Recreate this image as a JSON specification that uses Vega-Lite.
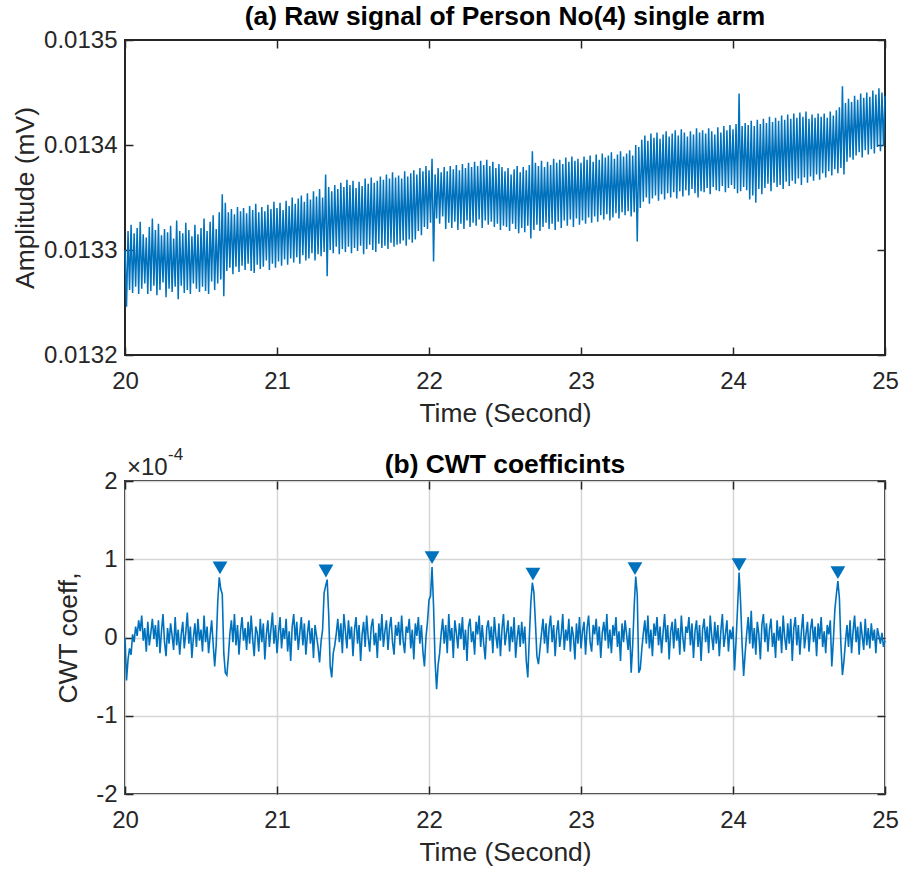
{
"$schema": "https://vega.github.io/schema/vega-lite/v6.json",
"background": "white",
"padding": {"left": 11, "top": 2, "right": 18, "bottom": 5},
"spacing": 126,
"bounds": "flush",
"config": {
  "font": "Liberation Sans",
  "view": {"stroke": "#262626", "strokeWidth": 2},
  "axis": {"domain": false, "labelFont": "Liberation Sans", "labelFontSize": 24, "labelColor": "#262626", "titleFont": "Liberation Sans", "titleFontSize": 26.4, "titleFontWeight": "normal", "titleColor": "#262626", "tickColor": "#262626", "tickSize": -8, "tickWidth": 1.5, "grid": false},
  "axisX": {"labelPadding": 22, "titlePadding": 7},
  "axisY": {"labelPadding": 16},
  "title": {"font": "Liberation Sans", "fontSize": 26.4, "fontWeight": "bold", "color": "#000000", "anchor": "middle", "offset": -2}
},
"datasets": {
"raw": [
{"t":20.00,"v":0.013300},{"t":20.01,"v":0.013246},{"t":20.02,"v":0.013318},{"t":20.03,"v":0.013262},{"t":20.04,"v":0.013324},{"t":20.05,"v":0.013259},{"t":20.06,"v":0.013316},{"t":20.07,"v":0.013265},{"t":20.08,"v":0.013321},{"t":20.09,"v":0.013258},
{"t":20.10,"v":0.013327},{"t":20.11,"v":0.013263},{"t":20.12,"v":0.013315},{"t":20.13,"v":0.013268},{"t":20.14,"v":0.013312},{"t":20.15,"v":0.013258},{"t":20.16,"v":0.013322},{"t":20.17,"v":0.013261},{"t":20.18,"v":0.013330},{"t":20.19,"v":0.013266},
{"t":20.20,"v":0.013319},{"t":20.21,"v":0.013257},{"t":20.22,"v":0.013325},{"t":20.23,"v":0.013262},{"t":20.24,"v":0.013314},{"t":20.25,"v":0.013269},{"t":20.26,"v":0.013320},{"t":20.27,"v":0.013255},{"t":20.28,"v":0.013317},{"t":20.29,"v":0.013263},
{"t":20.30,"v":0.013323},{"t":20.31,"v":0.013260},{"t":20.32,"v":0.013311},{"t":20.33,"v":0.013265},{"t":20.34,"v":0.013328},{"t":20.35,"v":0.013253},{"t":20.36,"v":0.013318},{"t":20.37,"v":0.013266},{"t":20.38,"v":0.013316},{"t":20.39,"v":0.013259},
{"t":20.40,"v":0.013326},{"t":20.41,"v":0.013262},{"t":20.42,"v":0.013319},{"t":20.43,"v":0.013258},{"t":20.44,"v":0.013313},{"t":20.45,"v":0.013268},{"t":20.46,"v":0.013324},{"t":20.47,"v":0.013263},{"t":20.48,"v":0.013315},{"t":20.49,"v":0.013260},
{"t":20.50,"v":0.013321},{"t":20.51,"v":0.013265},{"t":20.52,"v":0.013330},{"t":20.53,"v":0.013261},{"t":20.54,"v":0.013318},{"t":20.55,"v":0.013258},{"t":20.56,"v":0.013327},{"t":20.57,"v":0.013270},{"t":20.58,"v":0.013333},{"t":20.59,"v":0.013262},
{"t":20.60,"v":0.013320},{"t":20.61,"v":0.013268},{"t":20.62,"v":0.013336},{"t":20.63,"v":0.013272},{"t":20.64,"v":0.013353},{"t":20.65,"v":0.013256},{"t":20.66,"v":0.013345},{"t":20.67,"v":0.013280},{"t":20.68,"v":0.013336},{"t":20.69,"v":0.013283},
{"t":20.70,"v":0.013339},{"t":20.71,"v":0.013277},{"t":20.72,"v":0.013334},{"t":20.73,"v":0.013284},{"t":20.74,"v":0.013341},{"t":20.75,"v":0.013279},{"t":20.76,"v":0.013337},{"t":20.77,"v":0.013285},{"t":20.78,"v":0.013340},{"t":20.79,"v":0.013281},
{"t":20.80,"v":0.013335},{"t":20.81,"v":0.013287},{"t":20.82,"v":0.013342},{"t":20.83,"v":0.013280},{"t":20.84,"v":0.013338},{"t":20.85,"v":0.013278},{"t":20.86,"v":0.013344},{"t":20.87,"v":0.013286},{"t":20.88,"v":0.013336},{"t":20.89,"v":0.013282},
{"t":20.90,"v":0.013341},{"t":20.91,"v":0.013284},{"t":20.92,"v":0.013337},{"t":20.93,"v":0.013290},{"t":20.94,"v":0.013343},{"t":20.95,"v":0.013281},{"t":20.96,"v":0.013339},{"t":20.97,"v":0.013287},{"t":20.98,"v":0.013346},{"t":20.99,"v":0.013283},
{"t":21.00,"v":0.013340},{"t":21.01,"v":0.013289},{"t":21.02,"v":0.013345},{"t":21.03,"v":0.013285},{"t":21.04,"v":0.013338},{"t":21.05,"v":0.013291},{"t":21.06,"v":0.013347},{"t":21.07,"v":0.013286},{"t":21.08,"v":0.013342},{"t":21.09,"v":0.013292},
{"t":21.10,"v":0.013350},{"t":21.11,"v":0.013288},{"t":21.12,"v":0.013344},{"t":21.13,"v":0.013293},{"t":21.14,"v":0.013349},{"t":21.15,"v":0.013287},{"t":21.16,"v":0.013352},{"t":21.17,"v":0.013295},{"t":21.18,"v":0.013346},{"t":21.19,"v":0.013290},
{"t":21.20,"v":0.013354},{"t":21.21,"v":0.013292},{"t":21.22,"v":0.013348},{"t":21.23,"v":0.013297},{"t":21.24,"v":0.013356},{"t":21.25,"v":0.013290},{"t":21.26,"v":0.013351},{"t":21.27,"v":0.013296},{"t":21.28,"v":0.013358},{"t":21.29,"v":0.013294},
{"t":21.30,"v":0.013350},{"t":21.31,"v":0.013298},{"t":21.32,"v":0.013372},{"t":21.33,"v":0.013275},{"t":21.34,"v":0.013360},{"t":21.35,"v":0.013300},{"t":21.36,"v":0.013356},{"t":21.37,"v":0.013297},{"t":21.38,"v":0.013362},{"t":21.39,"v":0.013303},
{"t":21.40,"v":0.013358},{"t":21.41,"v":0.013296},{"t":21.42,"v":0.013364},{"t":21.43,"v":0.013301},{"t":21.44,"v":0.013360},{"t":21.45,"v":0.013298},{"t":21.46,"v":0.013367},{"t":21.47,"v":0.013303},{"t":21.48,"v":0.013362},{"t":21.49,"v":0.013297},
{"t":21.50,"v":0.013366},{"t":21.51,"v":0.013302},{"t":21.52,"v":0.013359},{"t":21.53,"v":0.013299},{"t":21.54,"v":0.013365},{"t":21.55,"v":0.013304},{"t":21.56,"v":0.013361},{"t":21.57,"v":0.013296},{"t":21.58,"v":0.013368},{"t":21.59,"v":0.013301},
{"t":21.60,"v":0.013363},{"t":21.61,"v":0.013305},{"t":21.62,"v":0.013369},{"t":21.63,"v":0.013300},{"t":21.64,"v":0.013364},{"t":21.65,"v":0.013298},{"t":21.66,"v":0.013366},{"t":21.67,"v":0.013306},{"t":21.68,"v":0.013370},{"t":21.69,"v":0.013302},
{"t":21.70,"v":0.013367},{"t":21.71,"v":0.013304},{"t":21.72,"v":0.013372},{"t":21.73,"v":0.013301},{"t":21.74,"v":0.013368},{"t":21.75,"v":0.013307},{"t":21.76,"v":0.013374},{"t":21.77,"v":0.013303},{"t":21.78,"v":0.013369},{"t":21.79,"v":0.013305},
{"t":21.80,"v":0.013371},{"t":21.81,"v":0.013306},{"t":21.82,"v":0.013368},{"t":21.83,"v":0.013309},{"t":21.84,"v":0.013375},{"t":21.85,"v":0.013304},{"t":21.86,"v":0.013370},{"t":21.87,"v":0.013310},{"t":21.88,"v":0.013373},{"t":21.89,"v":0.013307},
{"t":21.90,"v":0.013376},{"t":21.91,"v":0.013310},{"t":21.92,"v":0.013372},{"t":21.93,"v":0.013318},{"t":21.94,"v":0.013378},{"t":21.95,"v":0.013314},{"t":21.96,"v":0.013375},{"t":21.97,"v":0.013322},{"t":21.98,"v":0.013380},{"t":21.99,"v":0.013320},
{"t":22.00,"v":0.013376},{"t":22.01,"v":0.013326},{"t":22.02,"v":0.013387},{"t":22.03,"v":0.013289},{"t":22.04,"v":0.013372},{"t":22.05,"v":0.013330},{"t":22.06,"v":0.013378},{"t":22.07,"v":0.013325},{"t":22.08,"v":0.013374},{"t":22.09,"v":0.013332},
{"t":22.10,"v":0.013379},{"t":22.11,"v":0.013320},{"t":22.12,"v":0.013375},{"t":22.13,"v":0.013326},{"t":22.14,"v":0.013380},{"t":22.15,"v":0.013321},{"t":22.16,"v":0.013377},{"t":22.17,"v":0.013327},{"t":22.18,"v":0.013381},{"t":22.19,"v":0.013319},
{"t":22.20,"v":0.013376},{"t":22.21,"v":0.013325},{"t":22.22,"v":0.013382},{"t":22.23,"v":0.013320},{"t":22.24,"v":0.013378},{"t":22.25,"v":0.013328},{"t":22.26,"v":0.013383},{"t":22.27,"v":0.013322},{"t":22.28,"v":0.013379},{"t":22.29,"v":0.013326},
{"t":22.30,"v":0.013384},{"t":22.31,"v":0.013323},{"t":22.32,"v":0.013380},{"t":22.33,"v":0.013329},{"t":22.34,"v":0.013385},{"t":22.35,"v":0.013321},{"t":22.36,"v":0.013381},{"t":22.37,"v":0.013328},{"t":22.38,"v":0.013386},{"t":22.39,"v":0.013324},
{"t":22.40,"v":0.013380},{"t":22.41,"v":0.013327},{"t":22.42,"v":0.013384},{"t":22.43,"v":0.013322},{"t":22.44,"v":0.013378},{"t":22.45,"v":0.013325},{"t":22.46,"v":0.013382},{"t":22.47,"v":0.013319},{"t":22.48,"v":0.013379},{"t":22.49,"v":0.013323},
{"t":22.50,"v":0.013375},{"t":22.51,"v":0.013322},{"t":22.52,"v":0.013378},{"t":22.53,"v":0.013318},{"t":22.54,"v":0.013372},{"t":22.55,"v":0.013325},{"t":22.56,"v":0.013377},{"t":22.57,"v":0.013320},{"t":22.58,"v":0.013380},{"t":22.59,"v":0.013316},
{"t":22.60,"v":0.013374},{"t":22.61,"v":0.013321},{"t":22.62,"v":0.013379},{"t":22.63,"v":0.013317},{"t":22.64,"v":0.013376},{"t":22.65,"v":0.013323},{"t":22.66,"v":0.013381},{"t":22.67,"v":0.013311},{"t":22.68,"v":0.013394},{"t":22.69,"v":0.013319},
{"t":22.70,"v":0.013383},{"t":22.71,"v":0.013324},{"t":22.72,"v":0.013380},{"t":22.73,"v":0.013318},{"t":22.74,"v":0.013385},{"t":22.75,"v":0.013322},{"t":22.76,"v":0.013379},{"t":22.77,"v":0.013326},{"t":22.78,"v":0.013384},{"t":22.79,"v":0.013320},
{"t":22.80,"v":0.013381},{"t":22.81,"v":0.013325},{"t":22.82,"v":0.013387},{"t":22.83,"v":0.013319},{"t":22.84,"v":0.013383},{"t":22.85,"v":0.013327},{"t":22.86,"v":0.013386},{"t":22.87,"v":0.013321},{"t":22.88,"v":0.013382},{"t":22.89,"v":0.013328},
{"t":22.90,"v":0.013388},{"t":22.91,"v":0.013323},{"t":22.92,"v":0.013384},{"t":22.93,"v":0.013329},{"t":22.94,"v":0.013389},{"t":22.95,"v":0.013322},{"t":22.96,"v":0.013385},{"t":22.97,"v":0.013330},{"t":22.98,"v":0.013387},{"t":22.99,"v":0.013324},
{"t":23.00,"v":0.013383},{"t":23.01,"v":0.013328},{"t":23.02,"v":0.013389},{"t":23.03,"v":0.013325},{"t":23.04,"v":0.013386},{"t":23.05,"v":0.013331},{"t":23.06,"v":0.013390},{"t":23.07,"v":0.013326},{"t":23.08,"v":0.013384},{"t":23.09,"v":0.013332},
{"t":23.10,"v":0.013391},{"t":23.11,"v":0.013327},{"t":23.12,"v":0.013386},{"t":23.13,"v":0.013333},{"t":23.14,"v":0.013392},{"t":23.15,"v":0.013329},{"t":23.16,"v":0.013388},{"t":23.17,"v":0.013334},{"t":23.18,"v":0.013390},{"t":23.19,"v":0.013328},
{"t":23.20,"v":0.013393},{"t":23.21,"v":0.013331},{"t":23.22,"v":0.013387},{"t":23.23,"v":0.013335},{"t":23.24,"v":0.013391},{"t":23.25,"v":0.013330},{"t":23.26,"v":0.013394},{"t":23.27,"v":0.013336},{"t":23.28,"v":0.013389},{"t":23.29,"v":0.013333},
{"t":23.30,"v":0.013392},{"t":23.31,"v":0.013337},{"t":23.32,"v":0.013395},{"t":23.33,"v":0.013332},{"t":23.34,"v":0.013390},{"t":23.35,"v":0.013336},{"t":23.36,"v":0.013400},{"t":23.37,"v":0.013308},{"t":23.38,"v":0.013398},{"t":23.39,"v":0.013340},
{"t":23.40,"v":0.013405},{"t":23.41,"v":0.013346},{"t":23.42,"v":0.013409},{"t":23.43,"v":0.013350},{"t":23.44,"v":0.013404},{"t":23.45,"v":0.013344},{"t":23.46,"v":0.013411},{"t":23.47,"v":0.013349},{"t":23.48,"v":0.013407},{"t":23.49,"v":0.013352},
{"t":23.50,"v":0.013412},{"t":23.51,"v":0.013347},{"t":23.52,"v":0.013406},{"t":23.53,"v":0.013353},{"t":23.54,"v":0.013410},{"t":23.55,"v":0.013348},{"t":23.56,"v":0.013413},{"t":23.57,"v":0.013354},{"t":23.58,"v":0.013408},{"t":23.59,"v":0.013350},
{"t":23.60,"v":0.013411},{"t":23.61,"v":0.013355},{"t":23.62,"v":0.013414},{"t":23.63,"v":0.013349},{"t":23.64,"v":0.013409},{"t":23.65,"v":0.013356},{"t":23.66,"v":0.013415},{"t":23.67,"v":0.013351},{"t":23.68,"v":0.013412},{"t":23.69,"v":0.013357},
{"t":23.70,"v":0.013408},{"t":23.71,"v":0.013352},{"t":23.72,"v":0.013413},{"t":23.73,"v":0.013358},{"t":23.74,"v":0.013410},{"t":23.75,"v":0.013354},{"t":23.76,"v":0.013416},{"t":23.77,"v":0.013350},{"t":23.78,"v":0.013412},{"t":23.79,"v":0.013356},
{"t":23.80,"v":0.013414},{"t":23.81,"v":0.013355},{"t":23.82,"v":0.013411},{"t":23.83,"v":0.013359},{"t":23.84,"v":0.013416},{"t":23.85,"v":0.013353},{"t":23.86,"v":0.013413},{"t":23.87,"v":0.013360},{"t":23.88,"v":0.013410},{"t":23.89,"v":0.013357},
{"t":23.90,"v":0.013417},{"t":23.91,"v":0.013356},{"t":23.92,"v":0.013412},{"t":23.93,"v":0.013361},{"t":23.94,"v":0.013418},{"t":23.95,"v":0.013355},{"t":23.96,"v":0.013414},{"t":23.97,"v":0.013359},{"t":23.98,"v":0.013419},{"t":23.99,"v":0.013362},
{"t":24.00,"v":0.013415},{"t":24.01,"v":0.013358},{"t":24.02,"v":0.013420},{"t":24.03,"v":0.013354},{"t":24.04,"v":0.013449},{"t":24.05,"v":0.013356},{"t":24.06,"v":0.013418},{"t":24.07,"v":0.013360},{"t":24.08,"v":0.013421},{"t":24.09,"v":0.013357},
{"t":24.10,"v":0.013419},{"t":24.11,"v":0.013348},{"t":24.12,"v":0.013423},{"t":24.13,"v":0.013352},{"t":24.14,"v":0.013418},{"t":24.15,"v":0.013345},{"t":24.16,"v":0.013424},{"t":24.17,"v":0.013358},{"t":24.18,"v":0.013420},{"t":24.19,"v":0.013353},
{"t":24.20,"v":0.013425},{"t":24.21,"v":0.013359},{"t":24.22,"v":0.013421},{"t":24.23,"v":0.013363},{"t":24.24,"v":0.013427},{"t":24.25,"v":0.013356},{"t":24.26,"v":0.013422},{"t":24.27,"v":0.013364},{"t":24.28,"v":0.013426},{"t":24.29,"v":0.013360},
{"t":24.30,"v":0.013423},{"t":24.31,"v":0.013362},{"t":24.32,"v":0.013428},{"t":24.33,"v":0.013358},{"t":24.34,"v":0.013424},{"t":24.35,"v":0.013365},{"t":24.36,"v":0.013429},{"t":24.37,"v":0.013361},{"t":24.38,"v":0.013425},{"t":24.39,"v":0.013366},
{"t":24.40,"v":0.013430},{"t":24.41,"v":0.013363},{"t":24.42,"v":0.013426},{"t":24.43,"v":0.013368},{"t":24.44,"v":0.013431},{"t":24.45,"v":0.013362},{"t":24.46,"v":0.013427},{"t":24.47,"v":0.013369},{"t":24.48,"v":0.013432},{"t":24.49,"v":0.013364},
{"t":24.50,"v":0.013425},{"t":24.51,"v":0.013370},{"t":24.52,"v":0.013429},{"t":24.53,"v":0.013366},{"t":24.54,"v":0.013426},{"t":24.55,"v":0.013372},{"t":24.56,"v":0.013430},{"t":24.57,"v":0.013367},{"t":24.58,"v":0.013427},{"t":24.59,"v":0.013373},
{"t":24.60,"v":0.013430},{"t":24.61,"v":0.013369},{"t":24.62,"v":0.013426},{"t":24.63,"v":0.013375},{"t":24.64,"v":0.013432},{"t":24.65,"v":0.013371},{"t":24.66,"v":0.013428},{"t":24.67,"v":0.013377},{"t":24.68,"v":0.013433},{"t":24.69,"v":0.013373},
{"t":24.70,"v":0.013436},{"t":24.71,"v":0.013378},{"t":24.72,"v":0.013456},{"t":24.73,"v":0.013372},{"t":24.74,"v":0.013440},{"t":24.75,"v":0.013384},{"t":24.76,"v":0.013444},{"t":24.77,"v":0.013388},{"t":24.78,"v":0.013441},{"t":24.79,"v":0.013386},
{"t":24.80,"v":0.013447},{"t":24.81,"v":0.013390},{"t":24.82,"v":0.013443},{"t":24.83,"v":0.013393},{"t":24.84,"v":0.013449},{"t":24.85,"v":0.013388},{"t":24.86,"v":0.013445},{"t":24.87,"v":0.013395},{"t":24.88,"v":0.013450},{"t":24.89,"v":0.013391},
{"t":24.90,"v":0.013446},{"t":24.91,"v":0.013396},{"t":24.92,"v":0.013452},{"t":24.93,"v":0.013392},{"t":24.94,"v":0.013448},{"t":24.95,"v":0.013398},{"t":24.96,"v":0.013454},{"t":24.97,"v":0.013394},{"t":24.98,"v":0.013450},{"t":24.99,"v":0.013399},
{"t":25.00,"v":0.013447}
],
"cwt": [
{"t":20.00,"c":0},{"t":20.01,"c":-55e-6},{"t":20.02,"c":-28e-6},{"t":20.03,"c":-14e-6},{"t":20.04,"c":-22e-6},{"t":20.05,"c":4e-6},{"t":20.06,"c":-6e-6},{"t":20.07,"c":14e-6},{"t":20.08,"c":2e-6},{"t":20.09,"c":22e-6},
{"t":20.10,"c":8e-6},{"t":20.11,"c":28e-6},{"t":20.12,"c":-4e-6},{"t":20.13,"c":12e-6},{"t":20.14,"c":-18e-6},{"t":20.15,"c":20e-6},{"t":20.16,"c":-10e-6},{"t":20.17,"c":6e-6},{"t":20.18,"c":24e-6},{"t":20.19,"c":-2e-6},
{"t":20.20,"c":16e-6},{"t":20.21,"c":-12e-6},{"t":20.22,"c":22e-6},{"t":20.23,"c":-20e-6},{"t":20.24,"c":8e-6},{"t":20.25,"c":30e-6},{"t":20.26,"c":-6e-6},{"t":20.27,"c":-24e-6},{"t":20.28,"c":12e-6},{"t":20.29,"c":-8e-6},
{"t":20.30,"c":18e-6},{"t":20.31,"c":2e-6},{"t":20.32,"c":-16e-6},{"t":20.33,"c":26e-6},{"t":20.34,"c":-10e-6},{"t":20.35,"c":10e-6},{"t":20.36,"c":-22e-6},{"t":20.37,"c":4e-6},{"t":20.38,"c":20e-6},{"t":20.39,"c":-14e-6},
{"t":20.40,"c":6e-6},{"t":20.41,"c":32e-6},{"t":20.42,"c":-8e-6},{"t":20.43,"c":14e-6},{"t":20.44,"c":-26e-6},{"t":20.45,"c":0},{"t":20.46,"c":18e-6},{"t":20.47,"c":-12e-6},{"t":20.48,"c":24e-6},{"t":20.49,"c":-4e-6},
{"t":20.50,"c":10e-6},{"t":20.51,"c":-18e-6},{"t":20.52,"c":28e-6},{"t":20.53,"c":-6e-6},{"t":20.54,"c":14e-6},{"t":20.55,"c":-20e-6},{"t":20.56,"c":2e-6},{"t":20.57,"c":22e-6},{"t":20.58,"c":-8e-6},{"t":20.59,"c":-37e-6},
{"t":20.60,"c":-10e-6},{"t":20.61,"c":45e-6},{"t":20.62,"c":77e-6},{"t":20.63,"c":62e-6},{"t":20.64,"c":55e-6},{"t":20.65,"c":-20e-6},{"t":20.66,"c":-45e-6},{"t":20.67,"c":-48e-6},{"t":20.68,"c":-25e-6},{"t":20.69,"c":5e-6},
{"t":20.70,"c":22e-6},{"t":20.71,"c":-6e-6},{"t":20.72,"c":30e-6},{"t":20.73,"c":-10e-6},{"t":20.74,"c":16e-6},{"t":20.75,"c":-22e-6},{"t":20.76,"c":8e-6},{"t":20.77,"c":26e-6},{"t":20.78,"c":-4e-6},{"t":20.79,"c":12e-6},
{"t":20.80,"c":-16e-6},{"t":20.81,"c":20e-6},{"t":20.82,"c":-8e-6},{"t":20.83,"c":28e-6},{"t":20.84,"c":-2e-6},{"t":20.85,"c":-24e-6},{"t":20.86,"c":14e-6},{"t":20.87,"c":6e-6},{"t":20.88,"c":-18e-6},{"t":20.89,"c":24e-6},
{"t":20.90,"c":-6e-6},{"t":20.91,"c":18e-6},{"t":20.92,"c":-28e-6},{"t":20.93,"c":4e-6},{"t":20.94,"c":22e-6},{"t":20.95,"c":-12e-6},{"t":20.96,"c":10e-6},{"t":20.97,"c":32e-6},{"t":20.98,"c":-8e-6},{"t":20.99,"c":16e-6},
{"t":21.00,"c":-20e-6},{"t":21.01,"c":6e-6},{"t":21.02,"c":26e-6},{"t":21.03,"c":-14e-6},{"t":21.04,"c":12e-6},{"t":21.05,"c":-2e-6},{"t":21.06,"c":24e-6},{"t":21.07,"c":-18e-6},{"t":21.08,"c":8e-6},{"t":21.09,"c":-30e-6},
{"t":21.10,"c":14e-6},{"t":21.11,"c":30e-6},{"t":21.12,"c":-4e-6},{"t":21.13,"c":20e-6},{"t":21.14,"c":-16e-6},{"t":21.15,"c":6e-6},{"t":21.16,"c":26e-6},{"t":21.17,"c":-10e-6},{"t":21.18,"c":18e-6},{"t":21.19,"c":-22e-6},
{"t":21.20,"c":4e-6},{"t":21.21,"c":22e-6},{"t":21.22,"c":-8e-6},{"t":21.23,"c":12e-6},{"t":21.24,"c":-26e-6},{"t":21.25,"c":16e-6},{"t":21.26,"c":2e-6},{"t":21.27,"c":-12e-6},{"t":21.28,"c":-32e-6},{"t":21.29,"c":-5e-6},
{"t":21.30,"c":10e-6},{"t":21.31,"c":57e-6},{"t":21.32,"c":66e-6},{"t":21.33,"c":74e-6},{"t":21.34,"c":30e-6},{"t":21.35,"c":-37e-6},{"t":21.36,"c":-51e-6},{"t":21.37,"c":-20e-6},{"t":21.38,"c":-10e-6},{"t":21.39,"c":5e-6},
{"t":21.40,"c":24e-6},{"t":21.41,"c":-6e-6},{"t":21.42,"c":18e-6},{"t":21.43,"c":-20e-6},{"t":21.44,"c":30e-6},{"t":21.45,"c":8e-6},{"t":21.46,"c":-14e-6},{"t":21.47,"c":22e-6},{"t":21.48,"c":-2e-6},{"t":21.49,"c":14e-6},
{"t":21.50,"c":-24e-6},{"t":21.51,"c":10e-6},{"t":21.52,"c":26e-6},{"t":21.53,"c":-8e-6},{"t":21.54,"c":16e-6},{"t":21.55,"c":-30e-6},{"t":21.56,"c":4e-6},{"t":21.57,"c":20e-6},{"t":21.58,"c":-12e-6},{"t":21.59,"c":28e-6},
{"t":21.60,"c":0},{"t":21.61,"c":-18e-6},{"t":21.62,"c":14e-6},{"t":21.63,"c":24e-6},{"t":21.64,"c":-10e-6},{"t":21.65,"c":6e-6},{"t":21.66,"c":-26e-6},{"t":21.67,"c":18e-6},{"t":21.68,"c":-4e-6},{"t":21.69,"c":30e-6},
{"t":21.70,"c":-12e-6},{"t":21.71,"c":8e-6},{"t":21.72,"c":22e-6},{"t":21.73,"c":-16e-6},{"t":21.74,"c":12e-6},{"t":21.75,"c":26e-6},{"t":21.76,"c":-6e-6},{"t":21.77,"c":-22e-6},{"t":21.78,"c":16e-6},{"t":21.79,"c":2e-6},
{"t":21.80,"c":20e-6},{"t":21.81,"c":-10e-6},{"t":21.82,"c":28e-6},{"t":21.83,"c":-4e-6},{"t":21.84,"c":-20e-6},{"t":21.85,"c":14e-6},{"t":21.86,"c":6e-6},{"t":21.87,"c":24e-6},{"t":21.88,"c":-14e-6},{"t":21.89,"c":10e-6},
{"t":21.90,"c":-28e-6},{"t":21.91,"c":18e-6},{"t":21.92,"c":2e-6},{"t":21.93,"c":26e-6},{"t":21.94,"c":-8e-6},{"t":21.95,"c":16e-6},{"t":21.96,"c":-18e-6},{"t":21.97,"c":-37e-6},{"t":21.98,"c":0},{"t":21.99,"c":20e-6},
{"t":22.00,"c":48e-6},{"t":22.01,"c":53e-6},{"t":22.02,"c":90e-6},{"t":22.03,"c":40e-6},{"t":22.04,"c":-30e-6},{"t":22.05,"c":-66e-6},{"t":22.06,"c":-35e-6},{"t":22.07,"c":-20e-6},{"t":22.08,"c":5e-6},{"t":22.09,"c":24e-6},
{"t":22.10,"c":-8e-6},{"t":22.11,"c":16e-6},{"t":22.12,"c":-20e-6},{"t":22.13,"c":30e-6},{"t":22.14,"c":-4e-6},{"t":22.15,"c":12e-6},{"t":22.16,"c":-26e-6},{"t":22.17,"c":22e-6},{"t":22.18,"c":6e-6},{"t":22.19,"c":-14e-6},
{"t":22.20,"c":18e-6},{"t":22.21,"c":-2e-6},{"t":22.22,"c":26e-6},{"t":22.23,"c":-16e-6},{"t":22.24,"c":10e-6},{"t":22.25,"c":-30e-6},{"t":22.26,"c":14e-6},{"t":22.27,"c":24e-6},{"t":22.28,"c":-6e-6},{"t":22.29,"c":8e-6},
{"t":22.30,"c":-22e-6},{"t":22.31,"c":20e-6},{"t":22.32,"c":4e-6},{"t":22.33,"c":28e-6},{"t":22.34,"c":-12e-6},{"t":22.35,"c":16e-6},{"t":22.36,"c":-8e-6},{"t":22.37,"c":-28e-6},{"t":22.38,"c":12e-6},{"t":22.39,"c":22e-6},
{"t":22.40,"c":-4e-6},{"t":22.41,"c":14e-6},{"t":22.42,"c":-20e-6},{"t":22.43,"c":26e-6},{"t":22.44,"c":2e-6},{"t":22.45,"c":-14e-6},{"t":22.46,"c":18e-6},{"t":22.47,"c":-24e-6},{"t":22.48,"c":10e-6},{"t":22.49,"c":30e-6},
{"t":22.50,"c":-10e-6},{"t":22.51,"c":6e-6},{"t":22.52,"c":22e-6},{"t":22.53,"c":-18e-6},{"t":22.54,"c":14e-6},{"t":22.55,"c":-6e-6},{"t":22.56,"c":26e-6},{"t":22.57,"c":-26e-6},{"t":22.58,"c":0},{"t":22.59,"c":16e-6},
{"t":22.60,"c":-12e-6},{"t":22.61,"c":20e-6},{"t":22.62,"c":-8e-6},{"t":22.63,"c":14e-6},{"t":22.64,"c":-30e-6},{"t":22.65,"c":-51e-6},{"t":22.66,"c":0},{"t":22.67,"c":45e-6},{"t":22.68,"c":70e-6},{"t":22.69,"c":58e-6},
{"t":22.70,"c":20e-6},{"t":22.71,"c":-24e-6},{"t":22.72,"c":-34e-6},{"t":22.73,"c":-15e-6},{"t":22.74,"c":5e-6},{"t":22.75,"c":24e-6},{"t":22.76,"c":-8e-6},{"t":22.77,"c":18e-6},{"t":22.78,"c":-20e-6},{"t":22.79,"c":12e-6},
{"t":22.80,"c":28e-6},{"t":22.81,"c":-6e-6},{"t":22.82,"c":16e-6},{"t":22.83,"c":-24e-6},{"t":22.84,"c":8e-6},{"t":22.85,"c":22e-6},{"t":22.86,"c":-12e-6},{"t":22.87,"c":4e-6},{"t":22.88,"c":30e-6},{"t":22.89,"c":-16e-6},
{"t":22.90,"c":10e-6},{"t":22.91,"c":-4e-6},{"t":22.92,"c":24e-6},{"t":22.93,"c":-18e-6},{"t":22.94,"c":14e-6},{"t":22.95,"c":2e-6},{"t":22.96,"c":-28e-6},{"t":22.97,"c":18e-6},{"t":22.98,"c":-8e-6},{"t":22.99,"c":26e-6},
{"t":23.00,"c":-14e-6},{"t":23.01,"c":8e-6},{"t":23.02,"c":20e-6},{"t":23.03,"c":-22e-6},{"t":23.04,"c":12e-6},{"t":23.05,"c":28e-6},{"t":23.06,"c":-6e-6},{"t":23.07,"c":-18e-6},{"t":23.08,"c":16e-6},{"t":23.09,"c":4e-6},
{"t":23.10,"c":24e-6},{"t":23.11,"c":-10e-6},{"t":23.12,"c":14e-6},{"t":23.13,"c":-26e-6},{"t":23.14,"c":6e-6},{"t":23.15,"c":20e-6},{"t":23.16,"c":-4e-6},{"t":23.17,"c":30e-6},{"t":23.18,"c":-14e-6},{"t":23.19,"c":10e-6},
{"t":23.20,"c":-20e-6},{"t":23.21,"c":16e-6},{"t":23.22,"c":2e-6},{"t":23.23,"c":26e-6},{"t":23.24,"c":-12e-6},{"t":23.25,"c":8e-6},{"t":23.26,"c":-30e-6},{"t":23.27,"c":18e-6},{"t":23.28,"c":-6e-6},{"t":23.29,"c":22e-6},
{"t":23.30,"c":4e-6},{"t":23.31,"c":-16e-6},{"t":23.32,"c":12e-6},{"t":23.33,"c":-45e-6},{"t":23.34,"c":-10e-6},{"t":23.35,"c":40e-6},{"t":23.36,"c":78e-6},{"t":23.37,"c":55e-6},{"t":23.38,"c":-45e-6},{"t":23.39,"c":-40e-6},
{"t":23.40,"c":-15e-6},{"t":23.41,"c":5e-6},{"t":23.42,"c":22e-6},{"t":23.43,"c":-8e-6},{"t":23.44,"c":28e-6},{"t":23.45,"c":-14e-6},{"t":23.46,"c":10e-6},{"t":23.47,"c":-24e-6},{"t":23.48,"c":18e-6},{"t":23.49,"c":2e-6},
{"t":23.50,"c":26e-6},{"t":23.51,"c":-10e-6},{"t":23.52,"c":14e-6},{"t":23.53,"c":-20e-6},{"t":23.54,"c":6e-6},{"t":23.55,"c":30e-6},{"t":23.56,"c":-6e-6},{"t":23.57,"c":16e-6},{"t":23.58,"c":-28e-6},{"t":23.59,"c":8e-6},
{"t":23.60,"c":20e-6},{"t":23.61,"c":-14e-6},{"t":23.62,"c":24e-6},{"t":23.63,"c":-4e-6},{"t":23.64,"c":12e-6},{"t":23.65,"c":-22e-6},{"t":23.66,"c":28e-6},{"t":23.67,"c":0},{"t":23.68,"c":-18e-6},{"t":23.69,"c":14e-6},
{"t":23.70,"c":6e-6},{"t":23.71,"c":26e-6},{"t":23.72,"c":-10e-6},{"t":23.73,"c":18e-6},{"t":23.74,"c":-26e-6},{"t":23.75,"c":8e-6},{"t":23.76,"c":22e-6},{"t":23.77,"c":-12e-6},{"t":23.78,"c":16e-6},{"t":23.79,"c":-30e-6},
{"t":23.80,"c":10e-6},{"t":23.81,"c":24e-6},{"t":23.82,"c":-6e-6},{"t":23.83,"c":14e-6},{"t":23.84,"c":-20e-6},{"t":23.85,"c":28e-6},{"t":23.86,"c":2e-6},{"t":23.87,"c":-16e-6},{"t":23.88,"c":20e-6},{"t":23.89,"c":-8e-6},
{"t":23.90,"c":16e-6},{"t":23.91,"c":-24e-6},{"t":23.92,"c":8e-6},{"t":23.93,"c":30e-6},{"t":23.94,"c":-12e-6},{"t":23.95,"c":4e-6},{"t":23.96,"c":22e-6},{"t":23.97,"c":-18e-6},{"t":23.98,"c":10e-6},{"t":23.99,"c":-2e-6},
{"t":24.00,"c":14e-6},{"t":24.01,"c":-42e-6},{"t":24.02,"c":-5e-6},{"t":24.03,"c":38e-6},{"t":24.04,"c":83e-6},{"t":24.05,"c":45e-6},{"t":24.06,"c":-10e-6},{"t":24.07,"c":-49e-6},{"t":24.08,"c":-20e-6},{"t":24.09,"c":5e-6},
{"t":24.10,"c":26e-6},{"t":24.11,"c":-8e-6},{"t":24.12,"c":34e-6},{"t":24.13,"c":-14e-6},{"t":24.14,"c":12e-6},{"t":24.15,"c":-22e-6},{"t":24.16,"c":20e-6},{"t":24.17,"c":4e-6},{"t":24.18,"c":-28e-6},{"t":24.19,"c":16e-6},
{"t":24.20,"c":30e-6},{"t":24.21,"c":-6e-6},{"t":24.22,"c":18e-6},{"t":24.23,"c":-18e-6},{"t":24.24,"c":10e-6},{"t":24.25,"c":24e-6},{"t":24.26,"c":-12e-6},{"t":24.27,"c":6e-6},{"t":24.28,"c":-26e-6},{"t":24.29,"c":22e-6},
{"t":24.30,"c":-4e-6},{"t":24.31,"c":14e-6},{"t":24.32,"c":-20e-6},{"t":24.33,"c":28e-6},{"t":24.34,"c":0},{"t":24.35,"c":-16e-6},{"t":24.36,"c":18e-6},{"t":24.37,"c":-8e-6},{"t":24.38,"c":24e-6},{"t":24.39,"c":-30e-6},
{"t":24.40,"c":12e-6},{"t":24.41,"c":26e-6},{"t":24.42,"c":-10e-6},{"t":24.43,"c":16e-6},{"t":24.44,"c":-22e-6},{"t":24.45,"c":8e-6},{"t":24.46,"c":30e-6},{"t":24.47,"c":-14e-6},{"t":24.48,"c":4e-6},{"t":24.49,"c":20e-6},
{"t":24.50,"c":-18e-6},{"t":24.51,"c":10e-6},{"t":24.52,"c":24e-6},{"t":24.53,"c":-6e-6},{"t":24.54,"c":14e-6},{"t":24.55,"c":-24e-6},{"t":24.56,"c":18e-6},{"t":24.57,"c":-2e-6},{"t":24.58,"c":26e-6},{"t":24.59,"c":-12e-6},
{"t":24.60,"c":8e-6},{"t":24.61,"c":-20e-6},{"t":24.62,"c":16e-6},{"t":24.63,"c":4e-6},{"t":24.64,"c":22e-6},{"t":24.65,"c":-37e-6},{"t":24.66,"c":-5e-6},{"t":24.67,"c":35e-6},{"t":24.68,"c":55e-6},{"t":24.69,"c":72e-6},
{"t":24.70,"c":50e-6},{"t":24.71,"c":-10e-6},{"t":24.72,"c":-48e-6},{"t":24.73,"c":-30e-6},{"t":24.74,"c":-5e-6},{"t":24.75,"c":16e-6},{"t":24.76,"c":-12e-6},{"t":24.77,"c":22e-6},{"t":24.78,"c":-20e-6},{"t":24.79,"c":8e-6},
{"t":24.80,"c":28e-6},{"t":24.81,"c":-6e-6},{"t":24.82,"c":14e-6},{"t":24.83,"c":-22e-6},{"t":24.84,"c":20e-6},{"t":24.85,"c":2e-6},{"t":24.86,"c":-16e-6},{"t":24.87,"c":24e-6},{"t":24.88,"c":-10e-6},{"t":24.89,"c":12e-6},
{"t":24.90,"c":-14e-6},{"t":24.91,"c":18e-6},{"t":24.92,"c":-4e-6},{"t":24.93,"c":10e-6},{"t":24.94,"c":-20e-6},{"t":24.95,"c":12e-6},{"t":24.96,"c":2e-6},{"t":24.97,"c":-8e-6},{"t":24.98,"c":6e-6},{"t":24.99,"c":-12e-6},
{"t":25.00,"c":-4e-6}
],
"peaks": [
{"t":20.625,"c":89e-6},{"t":21.322,"c":85e-6},{"t":22.02,"c":102e-6},{"t":22.684,"c":81e-6},{"t":23.355,"c":88e-6},{"t":24.04,"c":93e-6},{"t":24.69,"c":83e-6}
],
"boxA": [{"t":20,"v":0.0132},{"t":25,"v":0.0135}],
"boxB": [{"t":20,"c":-0.0002},{"t":25,"c":0.0002}],
"expo": [{"t":20,"c":0.0002,"base":"×10","sup":"-4"}]
},
"vconcat": [
{
  "width": 760, "height": 315,
  "title": "(a) Raw signal of Person No(4) single arm",
  "layer": [
    {
      "data": {"name": "raw"},
      "mark": {"type": "line", "color": "#0072BD", "strokeWidth": 1.5},
      "encoding": {
        "x": {"field": "t", "type": "quantitative", "scale": {"domain": [20, 25], "nice": false}, "axis": {"values": [20, 21, 22, 23, 24, 25], "format": "d", "title": "Time (Second)", "labelFlush": false}},
        "y": {"field": "v", "type": "quantitative", "scale": {"domain": [0.0132, 0.0135], "nice": false, "zero": false}, "axis": {"values": [0.0132, 0.0133, 0.0134, 0.0135], "format": ".4f", "title": "Amplitude (mV)", "titlePadding": 4}}
      }
    },
    {
      "data": {"name": "boxA"},
      "mark": {"type": "point", "opacity": 0},
      "encoding": {
        "x": {"field": "t", "type": "quantitative", "axis": {"orient": "top", "values": [20, 21, 22, 23, 24, 25], "labels": false, "title": null}},
        "y": {"field": "v", "type": "quantitative", "axis": {"orient": "right", "values": [0.0132, 0.0133, 0.0134, 0.0135], "labels": false, "title": null}}
      }
    }
  ],
  "resolve": {"axis": {"x": "independent", "y": "independent"}}
},
{
  "width": 760, "height": 313,
  "title": {"text": "(b) CWT coefficints", "offset": -32},
  "layer": [
    {
      "data": {"name": "cwt"},
      "mark": {"type": "line", "color": "#0072BD", "strokeWidth": 1.6},
      "encoding": {
        "x": {"field": "t", "type": "quantitative", "scale": {"domain": [20, 25], "nice": false}, "axis": {"values": [20, 21, 22, 23, 24, 25], "format": "d", "title": "Time (Second)", "labelFlush": false, "grid": true, "gridColor": "#d6d6d6", "gridWidth": 1.5}},
        "y": {"field": "c", "type": "quantitative", "scale": {"domain": [-0.0002, 0.0002], "nice": false, "zero": false}, "axis": {"values": [-0.0002, -0.0001, 0, 0.0001, 0.0002], "labelExpr": "datum.value < 0 ? '-' + format(-datum.value * 10000, 'd') : format(datum.value * 10000, 'd')", "title": "CWT coeff,", "titlePadding": 13, "grid": true, "gridColor": "#d6d6d6", "gridWidth": 1.5}}
      }
    },
    {
      "data": {"name": "peaks"},
      "mark": {"type": "point", "shape": "triangle-down", "filled": true, "color": "#0072BD", "opacity": 1, "size": 220},
      "encoding": {
        "x": {"field": "t", "type": "quantitative", "axis": null},
        "y": {"field": "c", "type": "quantitative", "axis": null}
      }
    },
    {
      "data": {"name": "boxB"},
      "mark": {"type": "point", "opacity": 0},
      "encoding": {
        "x": {"field": "t", "type": "quantitative", "axis": {"orient": "top", "values": [20, 21, 22, 23, 24, 25], "labels": false, "title": null}},
        "y": {"field": "c", "type": "quantitative", "axis": {"orient": "right", "values": [-0.0002, -0.0001, 0, 0.0001, 0.0002], "labels": false, "title": null}}
      }
    },
    {
      "data": {"name": "expo"},
      "mark": {"type": "text", "align": "left", "baseline": "alphabetic", "dx": 2, "dy": -6, "fontSize": 24, "color": "#262626", "font": "Liberation Sans"},
      "encoding": {
        "x": {"field": "t", "type": "quantitative", "axis": null},
        "y": {"field": "c", "type": "quantitative", "axis": null},
        "text": {"field": "base"}
      }
    },
    {
      "data": {"name": "expo"},
      "mark": {"type": "text", "align": "left", "baseline": "alphabetic", "dx": 43, "dy": -21, "fontSize": 17, "color": "#262626", "font": "Liberation Sans"},
      "encoding": {
        "x": {"field": "t", "type": "quantitative", "axis": null},
        "y": {"field": "c", "type": "quantitative", "axis": null},
        "text": {"field": "sup"}
      }
    }
  ],
  "resolve": {"axis": {"x": "independent", "y": "independent"}}
}
]
}
